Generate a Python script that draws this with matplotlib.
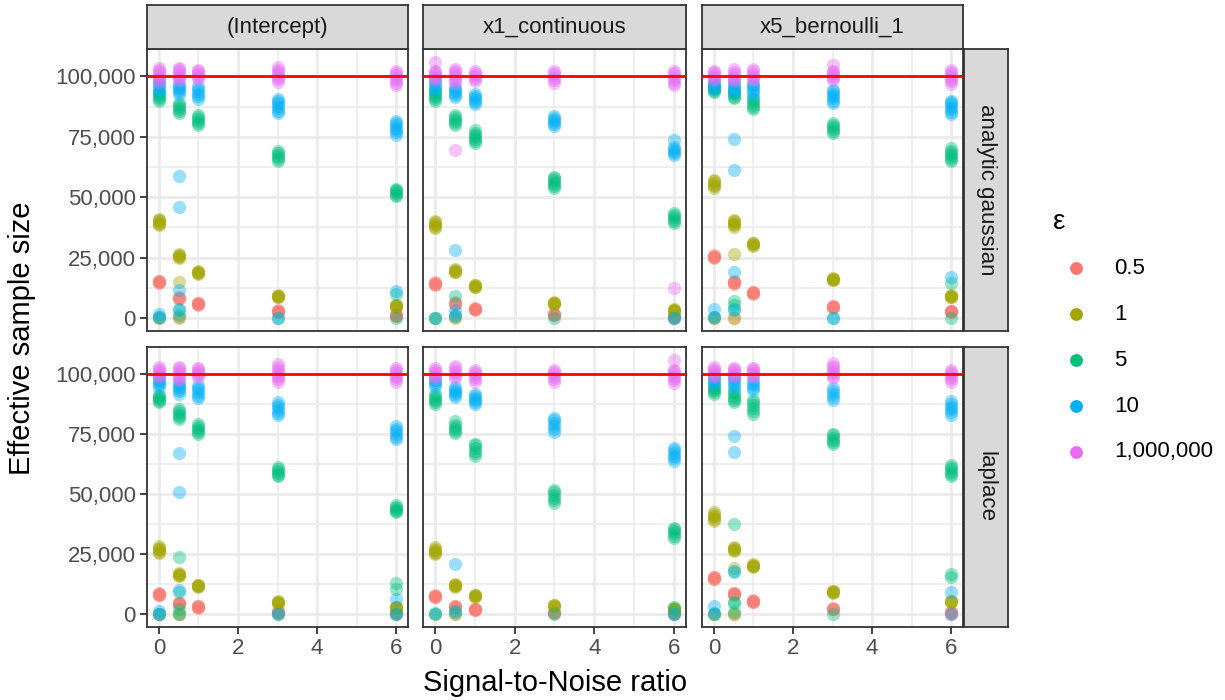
import matplotlib

matplotlib.use("Agg")
import matplotlib.pyplot as plt
from matplotlib.ticker import FuncFormatter, FixedLocator

plt.rcParams["font.family"] = ["Liberation Sans", "DejaVu Sans"]

SNR = [0, 0.5, 1, 3, 6]
EPS_LABELS = ["0.5", "1", "5", "10", "1,000,000"]
EPS_COLORS = ["#F8766D", "#A3A500", "#00BF7D", "#00B0F6", "#E76BF3"]
COEFS = ["(Intercept)", "x1_continuous", "x5_bernoulli_1"]
MECHS = ["analytic gaussian", "laplace"]
TRUE_N = 100000

# effective sample size (thousands), one sublist per SNR value
# --- analytic gaussian, (Intercept)
ga_int_e05 = [[14.6, 14.8, 15.0, 15.2, 15.4, 0.0], [8.1, 8.3, 8.5, 8.7, 0.2],
              [5.5, 5.7, 5.9, 6.1, 6.2], [2.5, 2.7, 2.9, 3.1, 3.2], [0.8, 1.0, 1.2, 1.4, 1.6]]
ga_int_e1 = [[38.5, 39.0, 39.5, 40.0, 40.5, 41.0, 0.0], [25.0, 25.4, 25.8, 26.2, 26.5, 15.0, 0.3],
             [18.4, 18.7, 19.0, 19.3, 19.5], [8.6, 8.9, 9.1, 9.3, 9.5], [4.7, 5.0, 5.2, 5.4, 5.6]]
ga_int_e5 = [[90.0, 90.8, 91.5, 92.2, 93.0, 93.7, 0.3], [84.8, 85.6, 86.4, 87.2, 88.0, 88.8, 4.0, 1.5],
             [80.0, 80.8, 81.6, 82.4, 83.2, 84.0], [65.0, 65.8, 66.6, 67.4, 68.2, 69.0, 0.0],
             [50.4, 51.0, 51.7, 52.4, 53.1, 53.6, 10.0, 0.0]]
ga_int_e10 = [[93.8, 94.8, 95.8, 96.8, 97.8, 98.8, 1.8, 0.5],
              [92.5, 93.4, 94.3, 95.2, 96.1, 97.0, 58.8, 45.8, 11.8, 3.5],
              [90.8, 91.8, 92.8, 93.8, 94.8, 95.8], [84.8, 85.8, 86.8, 87.8, 88.8, 89.8, 90.5, 0.0],
              [75.8, 76.8, 77.8, 78.8, 79.8, 80.8, 81.5, 11.3]]
ga_int_e1m = [[97.8, 98.8, 99.8, 100.8, 101.8, 102.8, 103.5], [98.4, 99.3, 100.2, 101.1, 102.0, 102.9, 103.6],
              [98.8, 99.6, 100.4, 101.2, 102.0, 102.8], [97.8, 98.8, 99.8, 100.8, 101.8, 102.8, 103.8],
              [96.4, 97.4, 98.4, 99.4, 100.4, 101.4, 102.4]]

# --- analytic gaussian, x1_continuous
ga_x1_e05 = [[13.8, 14.0, 14.3, 14.6, 14.8], [5.8, 6.0, 6.3, 6.6, 0.3], [3.4, 3.6, 3.8, 4.0, 4.1],
             [1.2, 1.4, 1.6, 1.8, 1.9], [0.2, 0.4, 0.6, 0.8, 0.9]]
ga_x1_e1 = [[37.3, 37.9, 38.5, 39.1, 39.6, 40.1, 0.0], [18.9, 19.3, 19.7, 20.1, 20.5, 0.2],
            [12.7, 13.0, 13.3, 13.6, 13.9], [5.7, 5.9, 6.1, 6.3, 6.5], [2.9, 3.1, 3.3, 3.5, 3.7]]
ga_x1_e5 = [[89.8, 90.6, 91.4, 92.2, 93.0, 93.8, 0.0], [80.0, 80.8, 81.6, 82.4, 83.2, 84.0, 9.0, 1.5],
            [72.5, 73.3, 74.1, 74.9, 75.7, 76.5, 78.0], [54.0, 54.8, 55.6, 56.4, 57.2, 58.0, 58.5, 0.0],
            [39.5, 40.3, 41.1, 41.9, 42.7, 43.5, 0.0]]
ga_x1_e10 = [[94.4, 95.3, 96.2, 97.1, 98.0, 98.9, 0.0], [91.5, 92.3, 93.1, 93.9, 94.7, 95.5, 28.1, 3.5, 1.0],
             [88.5, 89.3, 90.1, 90.9, 91.7, 92.5], [79.5, 80.3, 81.1, 81.9, 82.7, 83.5],
             [67.5, 68.3, 69.1, 69.9, 70.7, 73.5, 0.0]]
ga_x1_e1m = [[98.4, 99.2, 100.0, 100.8, 101.6, 102.4, 105.8],
             [97.4, 98.4, 99.4, 100.4, 101.4, 102.4, 103.0, 69.6],
             [97.9, 98.8, 99.7, 100.6, 101.5, 102.4], [97.4, 98.4, 99.4, 100.4, 101.4, 102.4],
             [96.4, 97.4, 98.4, 99.4, 100.4, 101.4, 102.4, 12.5]]

# --- analytic gaussian, x5_bernoulli_1
ga_x5_e05 = [[24.8, 25.1, 25.4, 25.7, 26.0, 0.0], [14.2, 14.5, 14.8, 15.1, 15.3, 0.2],
             [10.1, 10.3, 10.5, 10.7, 10.9], [4.4, 4.6, 4.8, 5.0, 5.1], [2.4, 2.6, 2.8, 3.0, 3.1]]
ga_x5_e1 = [[53.8, 54.5, 55.2, 55.9, 56.6, 57.3, 0.0], [37.9, 38.5, 39.1, 39.7, 40.3, 40.8, 26.4, 0.2],
            [30.0, 30.3, 30.6, 30.9, 31.2], [15.7, 15.9, 16.1, 16.3, 16.5], [8.6, 8.8, 9.0, 9.2, 9.4]]
ga_x5_e5 = [[93.4, 94.0, 94.6, 95.2, 95.8, 96.2, 0.3], [90.9, 91.6, 92.3, 93.0, 93.7, 94.4, 7.0, 5.5, 4.0],
            [86.5, 87.4, 88.3, 89.2, 90.1, 91.0], [76.4, 77.3, 78.2, 79.1, 80.0, 80.9, 0.0],
            [64.8, 65.7, 66.6, 67.5, 68.4, 69.3, 70.3, 14.7, 0.0]]
ga_x5_e10 = [[94.8, 95.6, 96.4, 97.2, 98.0, 3.6, 0.5],
             [93.4, 94.3, 95.2, 96.1, 97.0, 97.9, 74.1, 61.3, 19.0, 3.2],
             [92.4, 93.4, 94.4, 95.4, 96.4, 97.0], [88.9, 89.9, 90.9, 91.9, 92.9, 93.9, 94.5, 0.0],
             [84.4, 85.4, 86.4, 87.4, 88.4, 89.4, 90.0, 17.0]]
ga_x5_e1m = [[98.4, 99.2, 100.0, 100.8, 101.6, 102.4], [97.9, 98.9, 99.9, 100.9, 101.9, 102.9],
             [98.4, 99.3, 100.2, 101.1, 102.0, 102.9], [98.4, 99.2, 100.0, 100.8, 101.6, 102.2, 104.5],
             [96.9, 97.9, 98.9, 99.9, 100.9, 101.9, 102.6]]

# --- laplace, (Intercept)
la_int_e05 = [[7.9, 8.1, 8.3, 8.5, 8.7, 0.0], [4.1, 4.3, 4.5, 4.7, 4.9, 0.0], [2.7, 2.9, 3.1, 3.3, 3.4],
              [0.5, 0.7, 0.9, 1.1, 1.3], [0.3, 0.5, 0.7, 0.9, 1.0]]
la_int_e1 = [[25.4, 26.0, 26.6, 27.2, 27.8, 28.4, 0.0], [15.9, 16.2, 16.5, 16.8, 17.0, 0.0],
             [11.5, 11.7, 11.9, 12.1, 12.3], [4.7, 4.9, 5.1, 5.3, 5.4], [2.5, 2.7, 2.9, 3.1, 3.2]]
la_int_e5 = [[88.4, 89.0, 89.6, 90.2, 90.8, 91.4, 0.3],
             [81.4, 82.2, 83.0, 83.8, 84.6, 85.4, 23.8, 9.3, 2.0, 0.3],
             [74.9, 75.8, 76.7, 77.6, 78.5, 79.4], [57.4, 58.2, 59.0, 59.8, 60.6, 61.4, 0.0],
             [42.4, 43.0, 43.6, 44.2, 44.8, 45.4, 12.9, 10.5, 0.0]]
la_int_e10 = [[94.8, 95.6, 96.4, 97.2, 98.0, 98.8, 1.5, 0.0],
              [91.9, 92.8, 93.7, 94.6, 95.5, 96.4, 67.2, 50.9, 10.0],
              [89.9, 91.0, 92.1, 93.2, 94.3, 95.4], [82.9, 84.0, 85.1, 86.2, 87.3, 88.4, 0.0],
              [72.9, 74.0, 75.1, 76.2, 77.3, 78.4, 6.4, 0.0]]
la_int_e1m = [[98.8, 99.6, 100.4, 101.2, 102.0, 102.8], [97.4, 98.4, 99.4, 100.4, 101.4, 102.4, 103.0],
              [98.8, 99.6, 100.4, 101.2, 102.0, 102.5],
              [96.8, 97.8, 98.8, 99.8, 100.8, 101.8, 102.8, 104.4],
              [96.8, 97.8, 98.8, 99.8, 100.8, 101.8, 102.6]]

# --- laplace, x1_continuous
la_x1_e05 = [[7.2, 7.4, 7.6, 7.8, 8.0], [3.0, 3.2, 3.4, 3.6, 0.0], [1.7, 1.9, 2.1, 2.3, 2.4],
             [0.4, 0.6, 0.8, 1.0], [0.3, 0.5, 0.7, 0.9, 1.0]]
la_x1_e1 = [[24.9, 25.5, 26.1, 26.7, 27.3, 27.9, 0.0], [11.4, 11.7, 12.0, 12.3, 12.5, 0.0],
            [7.3, 7.5, 7.7, 7.9, 8.1], [3.3, 3.5, 3.7, 3.9], [1.8, 2.0, 2.2, 2.4, 2.6]]
la_x1_e5 = [[87.4, 88.3, 89.2, 90.1, 91.0, 91.9, 0.0], [75.4, 76.3, 77.2, 78.1, 79.0, 80.5, 1.5],
            [65.9, 67.0, 68.1, 69.2, 70.3, 71.0], [46.4, 47.5, 48.6, 49.7, 50.8, 51.9, 0.0],
            [31.9, 32.8, 33.7, 34.6, 35.5, 36.1, 3.0, 0.0]]
la_x1_e10 = [[94.8, 95.7, 96.6, 97.5, 98.2, 0.5], [90.4, 91.3, 92.2, 93.1, 94.0, 94.6, 21.0, 1.0],
             [87.4, 88.3, 89.2, 90.1, 91.0, 91.7], [75.9, 77.1, 78.3, 79.5, 80.7, 81.9],
             [63.9, 65.0, 66.1, 67.2, 68.3, 69.3, 0.0]]
la_x1_e1m = [[98.4, 99.2, 100.0, 100.8, 101.6, 102.4], [98.4, 99.4, 100.4, 101.4, 102.4, 103.5],
             [96.9, 97.9, 98.9, 99.9, 100.9, 101.9], [96.9, 97.9, 98.9, 99.9, 100.9, 101.9],
             [96.4, 97.4, 98.4, 99.4, 100.4, 101.4, 101.8, 105.9]]

# --- laplace, x5_bernoulli_1
la_x5_e05 = [[14.5, 14.8, 15.1, 15.4, 15.6, 0.0], [8.1, 8.3, 8.5, 8.7, 8.9, 0.0],
             [5.1, 5.3, 5.5, 5.7, 5.9], [2.0, 2.2, 2.4, 2.6], [0.3, 0.5, 0.7, 0.9, 1.0]]
la_x5_e1 = [[38.9, 39.6, 40.3, 41.0, 41.7, 42.5, 0.0], [26.4, 26.8, 27.2, 27.6, 28.0, 19.3, 0.0],
            [19.7, 20.0, 20.3, 20.6, 20.8], [9.0, 9.2, 9.4, 9.6, 9.8], [5.0, 5.2, 5.4, 5.6]]
la_x5_e5 = [[91.9, 92.6, 93.3, 94.0, 94.7, 95.1, 0.3],
            [88.4, 89.3, 90.2, 91.1, 92.0, 92.9, 37.8, 17.5, 5.0, 4.5, 1.0],
            [83.4, 84.6, 85.8, 87.0, 88.2, 89.4], [70.9, 71.8, 72.7, 73.6, 74.5, 74.9, 0.0],
            [57.4, 58.4, 59.4, 60.4, 61.4, 62.0, 16.8, 15.4]]
la_x5_e10 = [[95.8, 96.6, 97.4, 98.2, 99.0, 3.5, 0.5],
             [94.4, 95.4, 96.4, 97.4, 98.4, 99.0, 74.3, 67.7, 18.0],
             [93.4, 94.4, 95.4, 96.4, 97.4], [89.4, 90.6, 91.8, 93.0, 94.2],
             [82.9, 84.1, 85.3, 86.5, 87.7, 88.9, 9.4, 0.0]]
la_x5_e1m = [[98.8, 99.6, 100.4, 101.2, 102.0, 102.8], [98.8, 99.6, 100.4, 101.2, 102.0, 102.6],
             [98.8, 99.6, 100.4, 101.2, 102.0, 102.6], [98.4, 99.4, 100.4, 101.4, 102.4, 103.4, 104.5],
             [96.9, 97.9, 98.9, 99.9, 100.9, 101.9]]

PANELS = [
    [[ga_int_e05, ga_int_e1, ga_int_e5, ga_int_e10, ga_int_e1m],
     [ga_x1_e05, ga_x1_e1, ga_x1_e5, ga_x1_e10, ga_x1_e1m],
     [ga_x5_e05, ga_x5_e1, ga_x5_e5, ga_x5_e10, ga_x5_e1m]],
    [[la_int_e05, la_int_e1, la_int_e5, la_int_e10, la_int_e1m],
     [la_x1_e05, la_x1_e1, la_x1_e5, la_x1_e10, la_x1_e1m],
     [la_x5_e05, la_x5_e1, la_x5_e5, la_x5_e10, la_x5_e1m]],
]

# ---- layout (pixels) ----
W, H = 1225, 700
COL_X = [(147, 408), (423, 686), (702, 963)]
ROW_Y = [(49, 331), (347, 627)]
STRIP_TOP = (5, 49)
STRIP_RIGHT = (964, 1008)

DARK = "#333333"
TICK_COL = "#4D4D4D"
GRID = "#EBEBEB"
STRIP_FILL = "#D9D9D9"

fig = plt.figure(figsize=(W / 100, H / 100), dpi=100)


def px_axes(x0, y0, x1, y1, **kw):
    return fig.add_axes([x0 / W, 1 - y1 / H, (x1 - x0) / W, (y1 - y0) / H], **kw)


def style_box(ax):
    for sp in ax.spines.values():
        sp.set_color(DARK)
        sp.set_linewidth(1.3)


comma = FuncFormatter(lambda v, _: f"{int(v):,}")

for r, (y0, y1) in enumerate(ROW_Y):
    for c, (x0, x1) in enumerate(COL_X):
        ax = px_axes(x0, y0, x1, y1)
        for e, col in enumerate(EPS_COLORS):
            series = PANELS[r][c][e]
            xs, ys = [], []
            for snr, vals in zip(SNR, series):
                xs += [snr] * len(vals)
                ys += [v * 1000 for v in vals]
            ax.scatter(xs, ys, s=90, color=col, alpha=0.4, linewidths=0, zorder=3)
        ax.axhline(TRUE_N, color="red", lw=2.0, zorder=4)

        ax.set_xlim(-0.3, 6.3)
        ax.set_ylim(-5300, 111300)
        ax.xaxis.set_major_locator(FixedLocator([0, 2, 4, 6]))
        ax.xaxis.set_minor_locator(FixedLocator([1, 3, 5]))
        ax.yaxis.set_major_locator(FixedLocator([0, 25000, 50000, 75000, 100000]))
        ax.yaxis.set_minor_locator(FixedLocator([12500, 37500, 62500, 87500]))
        ax.yaxis.set_major_formatter(comma)
        ax.grid(which="major", color=GRID, lw=2.0, zorder=0)
        ax.grid(which="minor", color=GRID, lw=1.1, zorder=0)
        ax.set_axisbelow(True)
        ax.tick_params(which="minor", length=0)
        ax.tick_params(which="major", length=5, width=1.3, color=DARK,
                       labelsize=16, labelcolor=TICK_COL, pad=3)
        if c > 0:
            ax.tick_params(axis="y", which="major", left=False, labelleft=False)
        if r == 0:
            ax.tick_params(axis="x", which="major", bottom=False, labelbottom=False)
        style_box(ax)

        if r == 0:
            sax = px_axes(x0, STRIP_TOP[0], x1, STRIP_TOP[1])
            sax.set_facecolor(STRIP_FILL)
            sax.set_xticks([])
            sax.set_yticks([])
            style_box(sax)
            sax.text(0.5, 0.5, COEFS[c], ha="center", va="center", fontsize=16,
                     color="#1A1A1A", transform=sax.transAxes)

    rax = px_axes(STRIP_RIGHT[0], y0, STRIP_RIGHT[1], y1)
    rax.set_facecolor(STRIP_FILL)
    rax.set_xticks([])
    rax.set_yticks([])
    style_box(rax)
    rax.text(0.5, 0.5, MECHS[r], ha="center", va="center", rotation=-90, fontsize=16,
             color="#1A1A1A", transform=rax.transAxes)

fig.text(22 / W, 1 - 338 / H, "Effective sample size", rotation=90, ha="center",
         va="center", fontsize=21, color="black")
fig.text(555 / W, 1 - 683 / H, "Signal-to-Noise ratio", ha="center", va="center",
         fontsize=21, color="black")

# ---- legend ----
lax = fig.add_axes([0, 0, 1, 1], facecolor="none")
lax.set_xlim(0, W)
lax.set_ylim(H, 0)
lax.axis("off")
lax.text(1053, 222, "ε", ha="left", va="center", fontsize=20, color="black")
for i, (lab, col) in enumerate(zip(EPS_LABELS, EPS_COLORS)):
    yy = 268 + 46 * i
    lax.scatter([1076], [yy], s=85, color=col, linewidths=0)
    lax.text(1114, yy, lab, ha="left", va="center", fontsize=16, color="black")

fig.savefig("out.png", dpi=100)
